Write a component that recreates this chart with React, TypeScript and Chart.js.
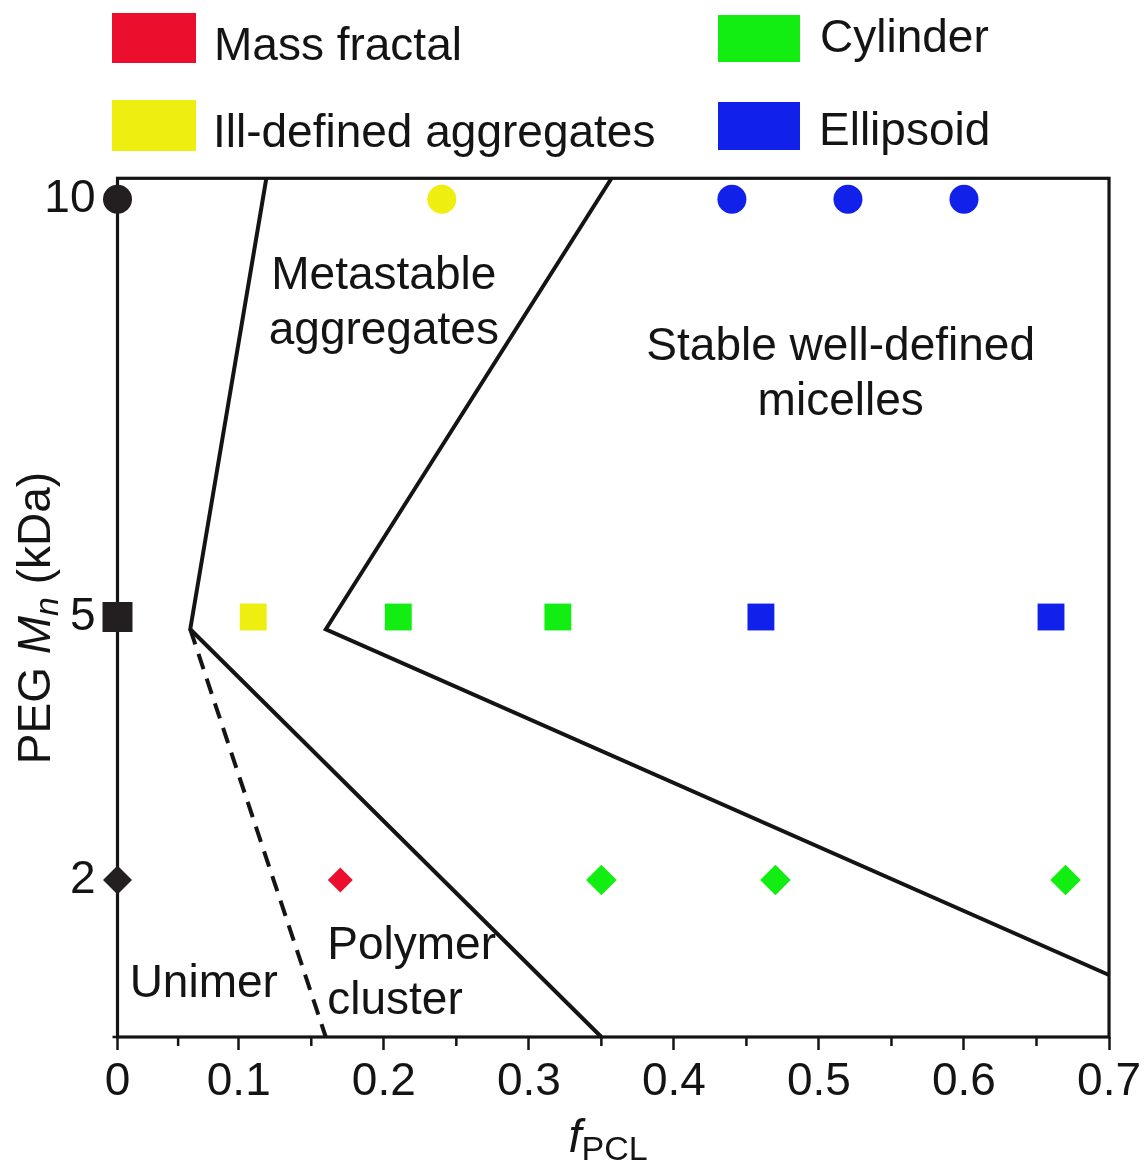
import React, { useEffect, useRef } from 'react';
import { Chart, registerables, LinearScale } from 'chart.js';

Chart.register(...registerables);

const FONT_FAMILY = '"Liberation Sans", Arial, Helvetica, sans-serif';
const INK = '#141414';

// ---------------- data ----------------
const seriesNames = ['Mass fractal', 'Ill-defined aggregates', 'Cylinder', 'Ellipsoid'];
const seriesColors = ['#ec0f2d', '#eeef10', '#12ee12', '#1121ea'];
const referenceColor = '#231f20';

const massFractalX = [0.17];
const massFractalY = [2];
const illDefinedX = [0.24, 0.11];
const illDefinedY = [10, 5];
const cylinderX = [0.21, 0.32, 0.35, 0.47, 0.67];
const cylinderY = [5, 5, 2, 2, 2];
const ellipsoidX = [0.44, 0.52, 0.6, 0.46, 0.66];
const ellipsoidY = [10, 10, 10, 5, 5];
const pegLevelX = [0, 0, 0];
const pegLevelY = [10, 5, 2];

const boundaryAX = [0.119, 0.06, 0.35];
const boundaryAY = [10.25, 4.86, 0];
const boundaryBX = [0.357, 0.16, 0.7];
const boundaryBY = [10.25, 4.86, 0.79];
const unimerBoundaryX = [0.06, 0.16];
const unimerBoundaryY = [4.86, 0];

const xMajorTicks = [0, 0.1, 0.2, 0.3, 0.4, 0.5, 0.6, 0.7];
const xTickLabels = ['0', '0.1', '0.2', '0.3', '0.4', '0.5', '0.6', '0.7'];
const xMinorTicks = [0.05, 0.15, 0.25, 0.35, 0.45, 0.55, 0.65];
const yTickValues = [2, 5, 10];
const yTickLabels = ['2', '5', '10'];

const regionLabels = [
  { lines: ['Metastable', 'aggregates'], x: 0.2, y: 8.93, align: 'center' },
  { lines: ['Stable well-defined', 'micelles'], x: 0.515, y: 8.08, align: 'center' },
  { lines: ['Polymer', 'cluster'], x: 0.161, y: 1.0, align: 'left' },
  { lines: ['Unimer'], x: 0.01, y: 0.51, align: 'left' },
];

// ------------- broken (piecewise-linear) axes, as in the original figure -------------
function makeBrokenScale(scaleId: string, values: number[], fractions: number[]) {
  class BrokenScale extends LinearScale {
    static id = scaleId;
    toFraction(v: number) {
      let i = 1;
      while (i < values.length - 1 && v > values[i]) i++;
      const v0 = values[i - 1], v1 = values[i];
      const f0 = fractions[i - 1], f1 = fractions[i];
      return f0 + ((v - v0) * (f1 - f0)) / (v1 - v0);
    }
    fromFraction(f: number) {
      let i = 1;
      while (i < fractions.length - 1 && f > fractions[i]) i++;
      const v0 = values[i - 1], v1 = values[i];
      const f0 = fractions[i - 1], f1 = fractions[i];
      return v0 + ((f - f0) * (v1 - v0)) / (f1 - f0);
    }
    getPixelForValue(value: number) {
      if (value === null || value === undefined || Number.isNaN(value)) return NaN;
      return this.getPixelForDecimal(this.toFraction(value));
    }
    getValueForPixel(pixel: number) {
      return this.fromFraction(this.getDecimalForPixel(pixel));
    }
  }
  return BrokenScale;
}

const BrokenX = makeBrokenScale('brokenX', [0, 0.1, 0.7], [0, 0.1223, 1]);
const BrokenY = makeBrokenScale('brokenY', [0, 2, 5, 10, 10.25], [0, 0.1828, 0.4891, 0.9755, 1]);
Chart.register(BrokenX as any, BrokenY as any);

// ---------------- datasets ----------------
const shapeForLevel = (y: number) => (y >= 10 ? 'circle' : y >= 5 ? 'rect' : 'rectRot');

function markerDataset(label: string, xs: number[], ys: number[], color: string, radii: Record<string, number>) {
  return {
    label,
    data: xs.map((x, i) => ({ x, y: ys[i] })),
    pointStyle: ys.map(shapeForLevel),
    pointRadius: ys.map((y) => radii[shapeForLevel(y)]),
    pointBackgroundColor: color,
    pointBorderColor: color,
    pointBorderWidth: 0,
    showLine: false,
    clip: false,
  };
}

function boundaryDataset(label: string, xs: number[], ys: number[], dash: number[]) {
  return {
    label,
    data: xs.map((x, i) => ({ x, y: ys[i] })),
    showLine: true,
    borderColor: INK,
    borderWidth: 4,
    borderDash: dash,
    pointRadius: 0,
    fill: false,
    tension: 0,
    clip: false,
  };
}

const colouredRadii = { circle: 14.5, rect: 19, rectRot: 15.3 };

function font(size: number, style = 'normal') {
  return `${style} ${size}px ${FONT_FAMILY}`;
}

function drawSegments(ctx: CanvasRenderingContext2D, segs: { t: string; f: string; dy?: number }[], cx: number, baseY: number) {
  let total = 0;
  for (const s of segs) {
    ctx.font = s.f;
    total += ctx.measureText(s.t).width;
  }
  let x = cx - total / 2;
  for (const s of segs) {
    ctx.font = s.f;
    ctx.fillText(s.t, x, baseY + (s.dy || 0));
    x += ctx.measureText(s.t).width;
  }
}

const decorPlugin = {
  id: 'phaseDecor',
  beforeDatasetsDraw(chart: any) {
    const { ctx, chartArea: a, scales } = chart;
    ctx.save();
    ctx.strokeStyle = INK;
    ctx.lineWidth = 3.2;
    ctx.strokeRect(a.left, a.top, a.right - a.left, a.bottom - a.top);
    ctx.lineWidth = 2.5;
    ctx.beginPath();
    for (const v of xMinorTicks) {
      const px = scales.x.getPixelForValue(v);
      ctx.moveTo(px, a.bottom);
      ctx.lineTo(px, a.bottom + 9);
    }
    ctx.moveTo(a.left - 5, a.bottom);
    ctx.lineTo(a.left, a.bottom);
    ctx.stroke();
    ctx.restore();
  },
  afterDraw(chart: any) {
    const { ctx, scales } = chart;
    ctx.save();
    ctx.fillStyle = INK;
    ctx.textBaseline = 'alphabetic';

    // region labels
    ctx.font = font(46);
    for (const r of regionLabels) {
      const px = scales.x.getPixelForValue(r.x);
      const py = scales.y.getPixelForValue(r.y);
      ctx.textAlign = r.align as CanvasTextAlign;
      r.lines.forEach((line, i) => ctx.fillText(line, px, py + i * 55));
    }

    // axis titles
    ctx.textAlign = 'left';
    drawSegments(
      ctx,
      [
        { t: 'f', f: font(47, 'italic') },
        { t: 'PCL', f: font(34), dy: 8 },
      ],
      608,
      1152
    );
    ctx.save();
    ctx.translate(50, 618);
    ctx.rotate(-Math.PI / 2);
    drawSegments(
      ctx,
      [
        { t: 'PEG ', f: font(46) },
        { t: 'M', f: font(46, 'italic') },
        { t: 'n', f: font(34, 'italic'), dy: 8 },
        { t: ' (kDa)', f: font(46) },
      ],
      0,
      0
    );
    ctx.restore();

    // legend (2 x 2)
    const slots = [
      { bx: 112, by: 13, bw: 84, bh: 50, tx: 214, ty: 60 },
      { bx: 112, by: 100, bw: 84, bh: 51, tx: 213, ty: 147 },
      { bx: 718, by: 15, bw: 82, bh: 47, tx: 820, ty: 52 },
      { bx: 718, by: 102, bw: 82, bh: 48, tx: 819, ty: 145 },
    ];
    ctx.font = font(46);
    ctx.textAlign = 'left';
    seriesNames.forEach((name, i) => {
      const s = slots[i];
      ctx.fillStyle = seriesColors[i];
      ctx.fillRect(s.bx, s.by, s.bw, s.bh);
      ctx.fillStyle = INK;
      ctx.fillText(name, s.tx, s.ty);
    });
    ctx.restore();
  },
};

export default function App() {
  const canvasRef = useRef<HTMLCanvasElement | null>(null);

  useEffect(() => {
    if (!canvasRef.current) return;
    Chart.defaults.font.family = FONT_FAMILY;
    const datasets: any[] = [
      markerDataset('PEG Mn', pegLevelX, pegLevelY, referenceColor, { circle: 14.5, rect: 21.2, rectRot: 14.5 }),
      markerDataset(seriesNames[0], massFractalX, massFractalY, seriesColors[0], { circle: 14.5, rect: 19, rectRot: 12.5 }),
      markerDataset(seriesNames[1], illDefinedX, illDefinedY, seriesColors[1], colouredRadii),
      markerDataset(seriesNames[2], cylinderX, cylinderY, seriesColors[2], colouredRadii),
      markerDataset(seriesNames[3], ellipsoidX, ellipsoidY, seriesColors[3], colouredRadii),
      boundaryDataset('Metastable boundary', boundaryAX, boundaryAY, []),
      boundaryDataset('Micelle boundary', boundaryBX, boundaryBY, []),
      boundaryDataset('Unimer boundary', unimerBoundaryX, unimerBoundaryY, [16, 10]),
    ];

    const chart = new Chart(canvasRef.current, {
      type: 'scatter',
      data: { datasets },
      options: {
        responsive: false,
        animation: false,
        events: [],
        layout: { padding: { top: 178.3, right: 34, bottom: 0, left: 0 } },
        plugins: { legend: { display: false }, tooltip: { enabled: false } },
        scales: {
          x: {
            type: 'brokenX',
            min: 0,
            max: 0.7,
            afterBuildTicks: (s: any) => {
              s.ticks = xMajorTicks.map((v) => ({ value: v }));
            },
            afterFit: (s: any) => {
              s.height = 128;
            },
            ticks: {
              callback: (_v: any, i: number) => xTickLabels[i],
              autoSkip: false,
              maxRotation: 0,
              minRotation: 0,
              padding: 5,
              color: INK,
              font: { size: 46, family: FONT_FAMILY },
            },
            grid: {
              drawOnChartArea: false,
              drawTicks: true,
              tickLength: 13,
              tickWidth: 2.5,
              tickColor: INK,
            },
            border: { display: false },
          } as any,
          y: {
            type: 'brokenY',
            min: 0,
            max: 10.25,
            afterBuildTicks: (s: any) => {
              s.ticks = yTickValues.map((v) => ({ value: v }));
            },
            afterFit: (s: any) => {
              s.width = 117.5;
            },
            ticks: {
              callback: (_v: any, i: number) => yTickLabels[i],
              autoSkip: false,
              padding: 22,
              color: INK,
              font: { size: 46, family: FONT_FAMILY },
            },
            grid: { display: false, drawTicks: false },
            border: { display: false },
          } as any,
        },
      },
      plugins: [decorPlugin],
    } as any);

    return () => chart.destroy();
  }, []);

  return (
    <div style={{ position: 'absolute', left: 0, top: 0, width: 1146, height: 1165, background: '#fff' }}>
      <canvas ref={canvasRef} width={1146} height={1165} style={{ display: 'block' }} />
    </div>
  );
}
